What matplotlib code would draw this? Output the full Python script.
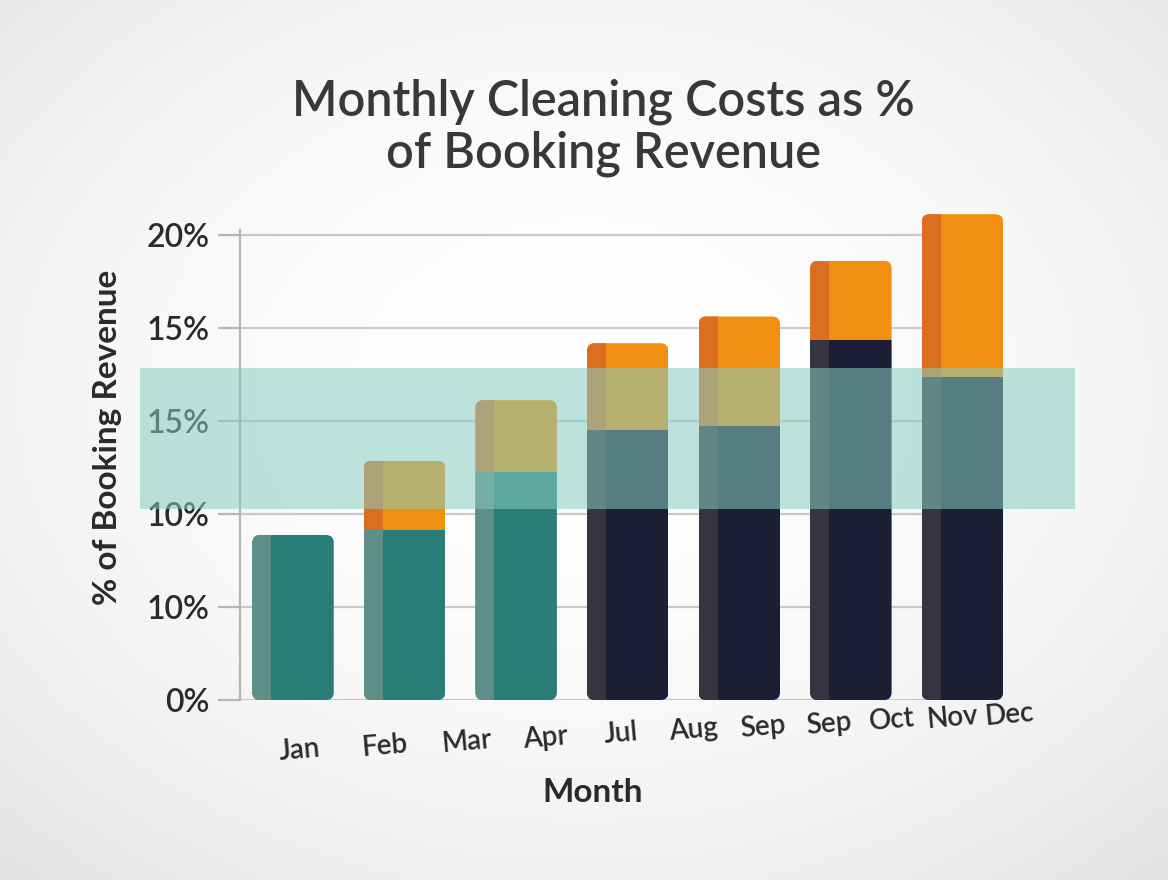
import numpy as np
import matplotlib
matplotlib.use("Agg")
import matplotlib.pyplot as plt
from matplotlib.patches import FancyBboxPatch, Rectangle

# ---------------- data ----------------
title = "Monthly Cleaning Costs as %\nof Booking Revenue"
x_label = "Month"
y_label = "% of Booking Revenue"
month_labels = ["Jan", "Feb", "Mar", "Apr", "Jul", "Aug", "Sep", "Sep", "Oct", "Nov", "Dec"]
y_tick_values = [0, 4, 8, 12, 16, 20]
y_tick_labels = ["0%", "10%", "10%", "15%", "15%", "20%"]
teal_base = [7.1, 7.3, 9.8, 0, 0, 0, 0]
navy_base = [0, 0, 0, 11.6, 11.8, 15.5, 13.9]
orange_top = [0, 3.0, 3.1, 3.75, 4.7, 3.4, 7.0]
band_range = (8.2, 14.3)

# ---------------- style ----------------
plt.rcParams['font.family'] = ['Lato', 'DejaVu Sans']
TEXT = "#2a2a2a"
COL = {
    "teal": ("#2a7d77", "#5f8e88"),
    "navy": ("#1b1e34", "#35343f"),
    "orange": ("#f09010", "#dc6e22"),
}

fig = plt.figure(figsize=(11.68, 8.8), dpi=100)

# background radial gradient
bg = fig.add_axes([0, 0, 1, 1], zorder=-10)
yy, xx = np.mgrid[0:1:200j, 0:1:260j]
r = np.sqrt(((xx - 0.5) / 0.75) ** 2 + ((yy - 0.55) / 0.75) ** 2)
shade = 1.0 - 0.11 * np.clip(r, 0, 1) ** 2
bg.imshow(np.dstack([shade, shade, shade]), extent=[0, 1, 0, 1], aspect='auto', origin='lower')
bg.axis('off')

ax = fig.add_axes([0.2055, 0.2045, 0.715, 0.560])
ax.set_facecolor('none')
n = len(teal_base)
x = np.arange(n)
ax.set_xlim(-0.475, 7.01)
ax.set_ylim(0, 21.2)

# grid lines
ax.hlines(y_tick_values, 0, 0.91, transform=ax.get_yaxis_transform(), colors="#c9c9c9", lw=1.6, zorder=1)

width = 0.73
side_w = 0.17
teal = np.array(teal_base)
navy = np.array(navy_base)
orng = np.array(orange_top)
base = teal + navy
total = base + orng

# rounded clip outlines per bar
x_units_px = 835 / (7.01 + 0.475)
y_units_px = 493 / 21.2
aspect = x_units_px / y_units_px
clips = []
for i in range(n):
    p = FancyBboxPatch((x[i] - width / 2, 0), width, total[i],
                       boxstyle="round,pad=0,rounding_size=0.07",
                       mutation_aspect=aspect, transform=ax.transData)
    clips.append(p)

def draw_segment(vals, bottom, key):
    front, side = COL[key]
    b1 = ax.bar(x, vals, width, bottom=bottom, color=front, zorder=3, linewidth=0)
    b2 = ax.bar(x - width / 2 + side_w / 2, vals, side_w, bottom=bottom, color=side, zorder=3.1, linewidth=0)
    for i, (r1, r2) in enumerate(zip(b1, b2)):
        r1.set_clip_path(clips[i])
        r2.set_clip_path(clips[i])

draw_segment(teal, np.zeros(n), "teal")
draw_segment(navy, teal, "navy")
draw_segment(orng, base, "orange")

# translucent band (extends left past the axis)
band = Rectangle((-0.12, band_range[0]), 1.12, band_range[1] - band_range[0],
                 transform=ax.get_yaxis_transform(), facecolor="#87ccbf", alpha=0.55,
                 edgecolor='none', zorder=6, clip_on=False)
ax.add_patch(band)

# axes styling
for s in ["top", "right", "bottom"]:
    ax.spines[s].set_visible(False)
ax.spines["left"].set_color("#b5b5b5")
ax.spines["left"].set_linewidth(1.6)
ax.spines["left"].set_bounds(0, 20.2)
ax.set_yticks(y_tick_values)
ax.set_yticklabels(y_tick_labels)
ax.tick_params(axis='y', length=16, width=1.6, color="#b5b5b5", pad=6,
               labelsize=23, labelcolor=TEXT)
for lab in ax.get_yticklabels():
    lab.set_fontweight('semibold')
ax.set_xticks([])

# month labels along a slanted baseline (perspective spacing)
t = np.linspace(0, 1, len(month_labels))
pos = 0.06 + 6.36 * (1.22 * t - 0.22 * t ** 2)
for p_, lab in zip(pos, month_labels):
    xpix = 293 + p_ * x_units_px
    ypix = 750 - 0.05 * (xpix - 300)
    ya = (700 - ypix) / 493
    ax.text(p_, ya, lab, transform=ax.get_xaxis_transform(), ha='center', va='center',
            fontsize=20, color=TEXT, rotation=5, fontweight='semibold')

fig.text(0.517, 0.855, title, ha='center', va='center', fontsize=35, color="#383838",
         fontweight='semibold', linespacing=1.15)
fig.text(0.092, 0.503, y_label, ha='center', va='center', rotation=90, fontsize=24,
         color=TEXT, fontweight='bold')
fig.text(0.507, 0.10, x_label, ha='center', va='center', fontsize=24, color=TEXT,
         fontweight='bold')

fig.savefig("out.png", dpi=100)
